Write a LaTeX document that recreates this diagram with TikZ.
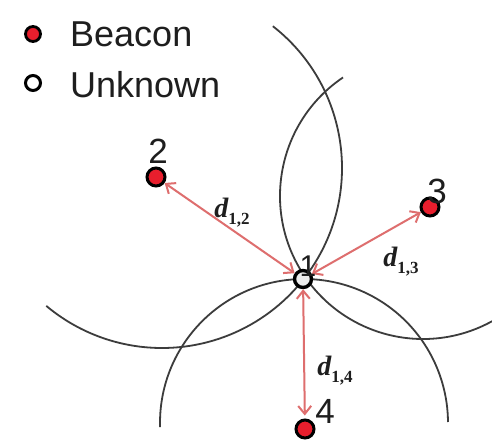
\documentclass[tikz,border=0pt]{standalone}
\usepackage{fontspec}
\setmainfont{Liberation Sans}
\newfontfamily\serifbold{Liberation Serif}
\usetikzlibrary{arrows.meta}
\definecolor{arcgray}{RGB}{60,60,60}
\definecolor{arrred}{RGB}{222,110,110}
\definecolor{beaconred}{RGB}{232,30,45}
\definecolor{txtgray}{RGB}{30,30,30}
\newcommand{\distlab}[1]{{\serifbold\fontsize{28}{28}\selectfont\bfseries\itshape d}{\serifbold\fontsize{17}{17}\selectfont\bfseries\raisebox{-7pt}{#1}}}
\begin{document}
\begin{tikzpicture}[x=1pt,y=-1pt,
 arcline/.style={draw=arcgray,line width=1.8pt},
 rangearrow/.style={draw=arrred,line width=2pt,{Straight Barb[length=8pt,width=13pt]}-{Straight Barb[length=8pt,width=13pt]}},
 beacon/.style={circle,draw=black,fill=beaconred,line width=3pt,minimum size=18pt,inner sep=0pt},
 unknown/.style={circle,draw=black,fill=gray!15,line width=3.4pt,minimum size=17pt,inner sep=0pt},
 idlabel/.style={font=\fontsize{35}{35}\selectfont,text=txtgray,inner sep=0pt},
 distlabel/.style={inner sep=0pt,text=txtgray},
 legendtext/.style={font=\fontsize{36}{36}\selectfont,text=txtgray,inner sep=0pt,anchor=base west}]
\useasboundingbox (0,0) rectangle (492,445);
\fill[white] (0,0) rectangle (492,445);
% range circles
\coordinate (c2) at (162,168);
\coordinate (c3) at (423,196);
\coordinate (c4) at (304,423);
\draw[arcline] (c2) ++(-52:180) arc[start angle=-52,end angle=130,radius=180];
\draw[arcline] (c3) ++(236:143) arc[start angle=236,end angle=61,radius=143];
\draw[arcline] (c4) ++(178.4:144) arc[start angle=178.4,end angle=359.6,radius=144];
% nodes
\node[unknown] (n1) at (303,279) {};
\node[beacon] (n2) at (156,177) {};
\node[beacon] (n3) at (430,207) {};
\node[beacon] (n4) at (305,429) {};
% ranges
\draw[rangearrow] (n1) -- (n2);
\draw[rangearrow] (n1) -- (n3);
\draw[rangearrow,shorten >=3pt] (n1) -- (n4);
% labels
\node[idlabel,font=\fontsize{30}{30}\selectfont] (l1) at (308,266) {1};
\node[idlabel] (l2) at (158,151) {2};
\node[idlabel] (l3) at (437,191) {3};
\node[idlabel] (l4) at (325,411) {4};
\node[distlabel] (d2) at (232,213) {\distlab{1,2}};
\node[distlabel] (d3) at (401,262) {\distlab{1,3}};
\node[distlabel] (d4) at (335,371) {\distlab{1,4}};
% legend
\node[beacon,minimum size=15pt,line width=2.8pt] (lb) at (33,34) {};
\node[unknown,fill=white,minimum size=15pt,line width=3pt] (lu) at (33,83) {};
\node[legendtext] (tb) at (70,46) {Beacon};
\node[legendtext] (tu) at (70,97) {Unknown};
\end{tikzpicture}
\end{document}
